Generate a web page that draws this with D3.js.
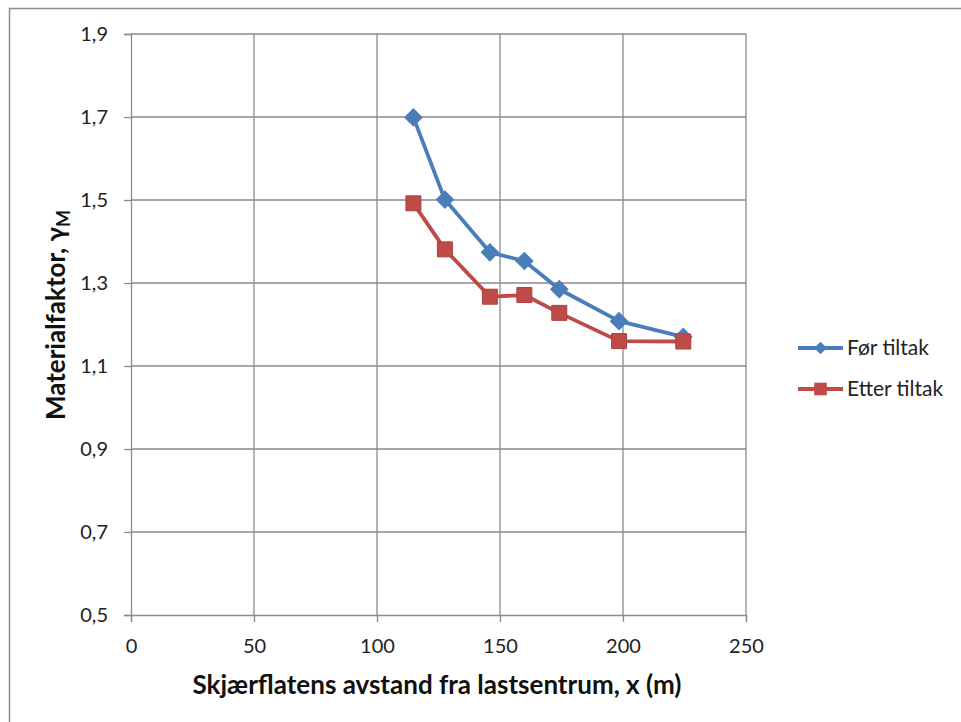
<!DOCTYPE html>
<html>
<head>
<meta charset="utf-8">
<script src="https://cdn.jsdelivr.net/npm/d3@7"></script>
<style>
  html, body { margin: 0; padding: 0; background: #fff; }
  svg { display: block; font-family: Lato, "Open Sans", "Liberation Sans", sans-serif; }
</style>
</head>
<body>
<svg id="chart" width="961" height="722"></svg>
<script>
// Distance of the shear plane from the load centre (m)
const distances = [114.8, 127.6, 145.9, 159.9, 174.1, 198.4, 224.5];
// Material factor before and after the measure
const forTiltak   = [1.699, 1.501, 1.374, 1.353, 1.285, 1.208, 1.170];
const etterTiltak = [1.492, 1.381, 1.267, 1.271, 1.228, 1.160, 1.159];
const seriesNames = ["Før tiltak", "Etter tiltak"];
const xTicks = [0, 50, 100, 150, 200, 250];
const yTicks = [0.5, 0.7, 0.9, 1.1, 1.3, 1.5, 1.7, 1.9];

const svg = d3.select("#chart");
const fmt = d => d3.format(".1f")(d).replace(".", ",");

// Outer chart frame
svg.append("rect")
  .attr("x", 9.5).attr("y", 8.5).attr("width", 1000).attr("height", 1000)
  .attr("fill", "none").attr("stroke", "#8c8c8c").attr("stroke-width", 1.5);

const x = d3.scaleLinear().domain([0, 250]).range([131, 746]);
const y = d3.scaleLinear().domain([0.5, 1.9]).range([615, 34]);

const gridColor = "#8a8a8a";

// Gridlines
svg.append("g").selectAll("line.h").data(yTicks.slice(1)).join("line")
  .attr("x1", x(0)).attr("x2", x(250))
  .attr("y1", d => y(d)).attr("y2", d => y(d))
  .attr("stroke", gridColor).attr("stroke-width", 1.3);
svg.append("g").selectAll("line.v").data(xTicks.slice(1)).join("line")
  .attr("x1", d => x(d)).attr("x2", d => x(d))
  .attr("y1", y(0.5)).attr("y2", y(1.9))
  .attr("stroke", gridColor).attr("stroke-width", 1.3);

// Axes
const xAxis = d3.axisBottom(x).tickValues(xTicks).tickSize(7).tickPadding(17).tickFormat(d3.format("d"));
const yAxis = d3.axisLeft(y).tickValues(yTicks).tickSize(7).tickPadding(16).tickFormat(fmt);

const gx = svg.append("g").attr("transform", `translate(0,${y(0.5)})`).call(xAxis);
const gy = svg.append("g").attr("transform", `translate(${x(0)},0)`).call(yAxis);
[gx, gy].forEach(g => {
  g.selectAll("path.domain").attr("stroke", gridColor).attr("stroke-width", 1.3);
  g.selectAll(".tick line").attr("stroke", gridColor).attr("stroke-width", 1.3);
  g.selectAll(".tick text").attr("fill", "#222").attr("font-size", 20)
    .attr("font-family", "Lato, 'Open Sans', sans-serif");
});

// Axis titles
svg.append("text")
  .attr("x", 437).attr("y", 694)
  .attr("text-anchor", "middle")
  .attr("font-size", 26).attr("font-weight", "bold").attr("fill", "#111")
  .text("Skjærflatens avstand fra lastsentrum, x (m)");

const yTitle = svg.append("text")
  .attr("transform", `translate(65,315) rotate(-90)`)
  .attr("text-anchor", "middle")
  .attr("font-size", 26).attr("font-weight", "bold").attr("fill", "#111");
yTitle.append("tspan").text("Materialfaktor, γ");
yTitle.append("tspan").attr("font-size", 18).attr("dy", 5).text("M");

// Series
const series = [
  { name: seriesNames[0], values: forTiltak, color: "#4a7ebb", marker: "diamond" },
  { name: seriesNames[1], values: etterTiltak, color: "#be4b48", marker: "square" }
];

const line = d3.line().x(d => x(d[0])).y(d => y(d[1]));

function drawMarker(g, type, color) {
  if (type === "diamond") {
    g.append("path").attr("d", d3.symbol().type(d3.symbolSquare).size(150)())
      .attr("transform", "rotate(45)")
      .attr("fill", color).attr("stroke", color).attr("stroke-width", 1);
  } else {
    g.append("path").attr("d", d3.symbol().type(d3.symbolSquare).size(225)())
      .attr("fill", color).attr("stroke", d3.color(color).darker(0.3)).attr("stroke-width", 1);
  }
}

series.forEach(s => {
  const pts = distances.map((d, i) => [d, s.values[i]]);
  svg.append("path").datum(pts)
    .attr("d", line).attr("fill", "none")
    .attr("stroke", s.color).attr("stroke-width", 3.8).attr("stroke-linejoin", "round");
  pts.forEach(p => {
    const g = svg.append("g").attr("transform", `translate(${x(p[0])},${y(p[1])})`);
    drawMarker(g, s.marker, s.color);
  });
});

// Legend
const legend = svg.append("g");
series.forEach((s, i) => {
  const ly = 348 + i * 41;
  legend.append("line").attr("x1", 798).attr("x2", 843).attr("y1", ly).attr("y2", ly)
    .attr("stroke", s.color).attr("stroke-width", 3.8);
  const g = legend.append("g").attr("transform", `translate(820.5,${ly})`);
  if (s.marker === "diamond") {
    g.append("path").attr("d", d3.symbol().type(d3.symbolSquare).size(80)())
      .attr("transform", "rotate(45)").attr("fill", s.color);
  } else {
    g.append("path").attr("d", d3.symbol().type(d3.symbolSquare).size(160)())
      .attr("fill", s.color);
  }
  legend.append("text").attr("x", 847).attr("y", ly + 7)
    .attr("font-size", 21).attr("fill", "#222").text(s.name);
});
</script>
</body>
</html>
